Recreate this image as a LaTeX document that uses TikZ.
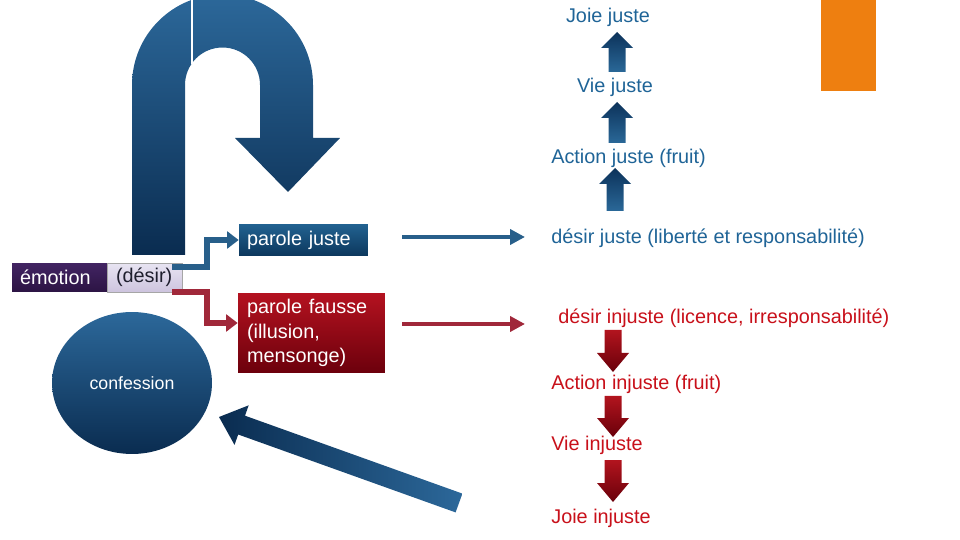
\documentclass[tikz,border=0pt]{standalone}
\usepackage{fontspec}
\setmainfont{Liberation Sans}
\usetikzlibrary{arrows.meta,shapes.geometric,calc}
\definecolor{ublue1}{RGB}{44,104,154}
\definecolor{ublue2}{RGB}{10,44,80}
\definecolor{txtblue}{RGB}{31,100,151}
\definecolor{txtred}{RGB}{200,16,26}
\definecolor{connblue}{RGB}{40,95,138}
\definecolor{connred}{RGB}{160,40,58}
\definecolor{red1}{RGB}{180,18,32}
\definecolor{red2}{RGB}{108,0,12}
\definecolor{purp1}{RGB}{66,36,98}
\definecolor{purp2}{RGB}{44,20,68}
\definecolor{lav1}{RGB}{232,228,242}
\definecolor{lav2}{RGB}{205,196,222}
\definecolor{orangebar}{RGB}{238,127,16}
\definecolor{arrdark}{RGB}{12,50,90}
\definecolor{arrlight}{RGB}{42,104,152}
\definecolor{dred1}{RGB}{178,20,30}
\definecolor{dred2}{RGB}{105,0,10}
\newcommand\myblockarrow[5]{%
  \shade[#1] (#2,#3) -- ({#2+16},#4) -- ({#2+8.5},#4) -- ({#2+8.5},#5)
    -- ({#2-8.5},#5) -- ({#2-8.5},#4) -- ({#2-16},#4) -- cycle;}
\tikzset{
  txt/.style={font=\fontsize{11.3}{13.6}\selectfont, inner sep=0pt},
  box/.style={font=\fontsize{11.3}{13.9}\selectfont, inner ysep=0pt, align=left, text=white},
  blueconn/.style={line width=3.4pt, connblue, -{Triangle[length=6.5pt,width=9.5pt]}},
  redconn/.style={line width=3.4pt, connred, -{Triangle[length=6.5pt,width=9.5pt]}},
  bluehor/.style={line width=2.8pt, connblue, -{Triangle[length=8.5pt,width=8.5pt]}},
  redhor/.style={line width=2.8pt, connred, -{Triangle[length=8.5pt,width=8.5pt]}},
}
\begin{document}
\begin{tikzpicture}[x=0.02cm, y=-0.02cm]
\useasboundingbox (0,0) rectangle (960,540);
\clip (0,0) rectangle (960,540);

% U-turn arrow
\shade[top color=ublue1, bottom color=ublue2]
  (132,255) -- (132,85) arc[start angle=180, end angle=360, radius=90.5]
  -- (313,138) -- (340,138) -- (288,192) -- (235,138) -- (260,138) -- (260,85)
  arc[start angle=0, end angle=-180, radius=37.5] -- (185,255) -- cycle;
\draw[white, line width=0.7pt] (192,0) -- (192,64);

% diagonal arrow
\shade[left color=ublue2, right color=ublue1]
  (219,417) -- (248.7,405.3) -- (245.0,415.7) -- (462.4,493.6) -- (455.6,512.4)
  -- (238.2,434.5) -- (234.5,444.9) -- cycle;

% orange bar
\fill[orangebar] (821,0) rectangle (876,91);

% left boxes
\node[box, minimum width=1.9cm, minimum height=0.58cm, text width=1.58cm, inner xsep=0.16cm,
  top color=purp1, bottom color=purp2] (emo) at (59.5,277.5) {émotion};
\node[box, minimum width=1.5cm, minimum height=0.58cm, text width=1.14cm, inner xsep=0.18cm,
  top color=lav1, bottom color=lav2, draw=gray!70, line width=0.4pt, text={rgb,255:red,30;green,30;blue,45}] (des) at (144.5,277.5) {(désir)};

\node[box, minimum width=2.58cm, minimum height=0.64cm, text width=2.26cm, inner xsep=0.16cm,
  top color={rgb,255:red,34;green,98;blue,145}, bottom color={rgb,255:red,12;green,55;blue,92}] (pj) at (303.5,240) {parole juste};
\node[box, minimum width=2.94cm, minimum height=1.6cm, text width=2.58cm, inner xsep=0.18cm,
  top color=red1, bottom color=red2] (pf) at (311.5,333) {parole fausse\\(illusion,\\mensonge)};

\node[ellipse, minimum width=3.2cm, minimum height=2.84cm, inner sep=0pt,
  top color=ublue1, bottom color=ublue2, text=white, font=\fontsize{10.1}{12}\selectfont] (conf) at (132,383) {confession};

% elbow connectors
\coordinate (bs) at (172,267);
\coordinate (rs) at (172,292);
\draw[blueconn] (bs) -- (207,267) -- (207,240) -- (pj.west);
\draw[redconn] (rs) -- (207,292) -- (207,323) -- ($(pf.west)+(0,-10)$);

% horizontal arrows
\coordinate (hb1) at (402,237);
\coordinate (hb2) at (525,237);
\coordinate (hr1) at (402,324);
\coordinate (hr2) at (525,324);
\draw[bluehor] (hb1) -- (hb2);
\draw[redhor] (hr1) -- (hr2);

% right texts
\node[txt, text=txtblue] (jj) at (608,17.5) {Joie juste};
\node[txt, text=txtblue] (vj) at (615,87.5) {Vie juste};
\node[txt, text=txtblue] (aj) at (628.5,158.5) {Action juste (fruit)};
\node[txt, text=txtblue, anchor=west] (dj) at (551,238.5) {désir juste (liberté et responsabilité)};
\node[txt, text=txtred, anchor=west] (di) at (558,318.5) {désir injuste (licence, irresponsabilité)};
\node[txt, text=txtred, anchor=west] (ai) at (551,384.5) {Action injuste (fruit)};
\node[txt, text=txtred, anchor=west] (vi) at (551,445.5) {Vie injuste};
\node[txt, text=txtred, anchor=west] (ji) at (551,518.5) {Joie injuste};

% up arrows
\myblockarrow{top color=arrdark, bottom color=arrlight}{617}{32}{48}{72}
\myblockarrow{top color=arrdark, bottom color=arrlight}{617}{102}{118}{143}
\myblockarrow{top color=arrdark, bottom color=arrlight}{615}{168}{184}{211}

% down arrows
\myblockarrow{top color=dred1, bottom color=dred2}{613}{372}{353}{330}
\myblockarrow{top color=dred1, bottom color=dred2}{613}{437}{418}{396}
\myblockarrow{top color=dred1, bottom color=dred2}{613}{502}{483}{460}
\end{tikzpicture}
\end{document}
